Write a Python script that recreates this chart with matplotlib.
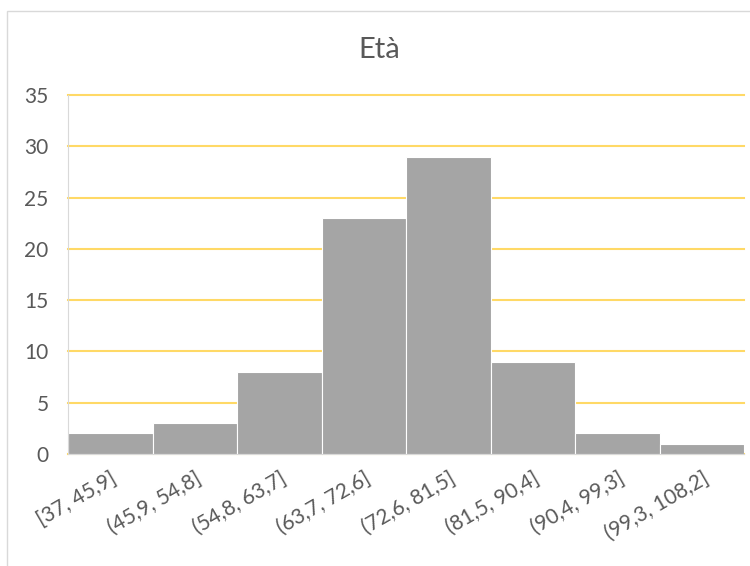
import matplotlib
matplotlib.use("Agg")
import matplotlib.pyplot as plt
from matplotlib.patches import Rectangle

# Age histogram: bin labels and counts
bins = ["[37, 45,9]", "(45,9, 54,8]", "(54,8, 63,7]", "(63,7, 72,6]",
        "(72,6, 81,5]", "(81,5, 90,4]", "(90,4, 99,3]", "(99,3, 108,2]"]
counts = [2, 3, 8, 23, 29, 9, 2, 1]
y_ticks = [0, 5, 10, 15, 20, 25, 30, 35]

plt.rcParams['font.family'] = ['Lato', 'DejaVu Sans']

fig = plt.figure(figsize=(7.5, 5.66), dpi=100)
fig.patch.set_facecolor("white")

# chart frame
fig.patches.append(Rectangle((7 / 750, -0.1), 1.2, 1 - 11 / 566 + 0.1,
                             transform=fig.transFigure, fill=False,
                             edgecolor="#d9d9d9", linewidth=1.0, zorder=0))

ax = fig.add_axes([68 / 750, 112 / 566, 676 / 750, 359 / 566])
x = list(range(len(bins)))
ax.bar(x, counts, width=1.0, color="#a5a5a5", edgecolor="white",
       linewidth=0.8, zorder=3)

ax.set_xlim(-0.5, len(bins) - 0.5)
ax.set_ylim(0, 35)
ax.set_yticks(y_ticks)
ax.set_yticklabels([str(v) for v in y_ticks], fontsize=15, color="#595959")
ax.set_xticks(x)
ax.set_xticklabels(bins, rotation=30, ha="right", rotation_mode="anchor",
                   fontsize=15, color="#595959")
ax.tick_params(axis="both", length=0)
ax.tick_params(axis="y", pad=14)
ax.tick_params(axis="x", pad=10)

ax.grid(axis="y", color="#ffd966", linewidth=1.5, zorder=1)
for gl in ax.get_ygridlines():
    gl.set_clip_on(False)
ax.set_axisbelow(True)
for s in ["top", "right"]:
    ax.spines[s].set_visible(False)
ax.spines["left"].set_color("#d9d9d9")
ax.spines["bottom"].set_color("#d9d9d9")
ax.spines["left"].set_zorder(4)
ax.spines["bottom"].set_zorder(4)

fig.text(0.5 + 4 / 750, 1 - 50 / 566, "Età", ha="center", va="center",
         fontsize=21, color="#595959")

fig.savefig("out.png", dpi=100)
